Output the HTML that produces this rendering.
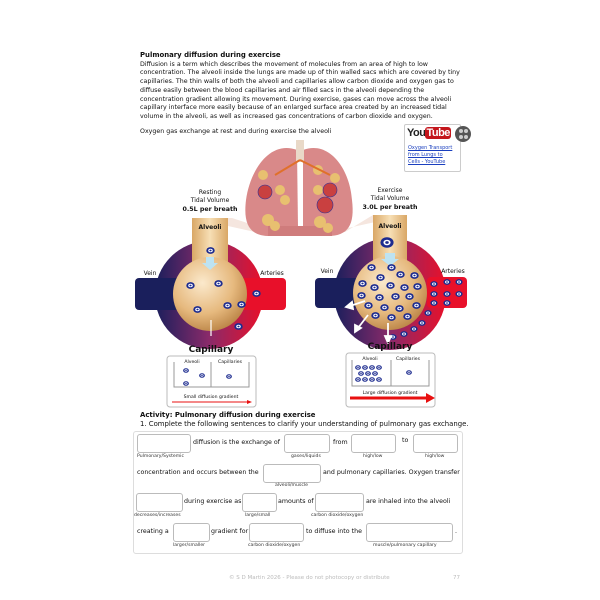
<!DOCTYPE html>
<html><head><meta charset="utf-8"><style>
body{margin:0;width:600px;height:600px;background:#fff;position:relative;overflow:hidden;font-family:"DejaVu Sans","Liberation Sans",sans-serif;color:#111}
.a{position:absolute;white-space:nowrap}
.t{font-size:6.3px;line-height:8.7px}
.ib{position:absolute;border:1px solid #bbb;border-radius:3px;background:#fff}
.s{font-size:6.3px;position:absolute;white-space:nowrap}
.l{font-size:4.6px;position:absolute;white-space:nowrap;color:#333}
</style></head><body>
<div class="a t" style="left:140px;top:51px"><b style="font-size:6.9px">Pulmonary diffusion during exercise</b><br>
Diffusion is a term which describes the movement of molecules from an area of high to low<br>
concentration. The alveoli inside the lungs are made up of thin walled sacs which are covered by tiny<br>
capillaries. The thin walls of both the alveoli and capillaries allow carbon dioxide and oxygen gas to<br>
diffuse easily between the blood capillaries and air filled sacs in the alveoli depending the<br>
concentration gradient allowing its movement. During exercise, gases can move across the alveoli<br>
capillary interface more easily because of an enlarged surface area created by an increased tidal<br>
volume in the alveoli, as well as increased gas concentrations of carbon dioxide and oxygen.</div>
<div class="a t" style="left:140px;top:128px">Oxygen gas exchange at rest and during exercise the alveoli</div>

<div style="position:absolute;left:404px;top:124px;width:55px;height:46px;border:1px solid #ccc;border-radius:2px;background:#fff">
<div class="a" style="left:2px;top:2px;font:bold 11px 'Liberation Sans',sans-serif;letter-spacing:-0.5px;color:#222">You<span style="background:#c4161c;color:#fff;border-radius:3px;padding:0 1px">Tube</span></div>
<div class="a" style="left:3px;top:20px;font-size:5px;line-height:7px;color:#1a3fbf;text-decoration:underline">Oxygen Transport<br>from Lungs to<br>Cells - YouTube</div></div>
<svg style="position:absolute;left:455px;top:124px" width="20" height="22"><circle cx="8" cy="10" r="8" fill="#555"/><circle cx="6" cy="7" r="2" fill="#ccc"/><circle cx="11" cy="7" r="2" fill="#ccc"/><circle cx="6" cy="13" r="2" fill="#ccc"/><circle cx="11" cy="13" r="2" fill="#ccc"/></svg>

<svg style="position:absolute;left:0;top:0" width="600" height="600">
<defs>
<linearGradient id="ring" x1="0" x2="1"><stop offset="0" stop-color="#1a1f5c"/><stop offset="0.5" stop-color="#8a2a6a"/><stop offset="1" stop-color="#e8102a"/></linearGradient>
<radialGradient id="sph" cx="0.4" cy="0.35" r="0.7"><stop offset="0" stop-color="#fbe9cc"/><stop offset="0.6" stop-color="#e6b97e"/><stop offset="1" stop-color="#b98244"/></radialGradient>
<linearGradient id="neck" x1="0" x2="1"><stop offset="0" stop-color="#d9a766"/><stop offset="0.5" stop-color="#f7dfb5"/><stop offset="1" stop-color="#d9a766"/></linearGradient>
<symbol id="o2" viewBox="0 0 10 8"><ellipse cx="5" cy="4" rx="4.8" ry="3.8" fill="#1c2b8f"/><ellipse cx="5" cy="4" rx="2.6" ry="2" fill="#fff"/><ellipse cx="5" cy="4" rx="1.3" ry="1" fill="#1c2b8f"/></symbol>
</defs>
<polygon points="255,232 192,218 232,218 275,232" fill="#f5e6df"/>
<polygon points="345,232 373,215 407,215 330,232" fill="#f5e6df"/>
<path d="M297,150 C270,140 250,170 246,200 C243,225 250,236 270,236 L298,228 Z" fill="#d98989"/>
<path d="M303,150 C330,140 350,170 352,200 C355,225 348,236 328,236 L303,228 Z" fill="#d98989"/>
<rect x="296" y="140" width="8" height="22" fill="#e9d9c8"/>
<rect x="268" y="226" width="64" height="10" fill="#cf7c7c"/>
<g fill="#e8c070"><circle cx="263" cy="175" r="5"/><circle cx="280" cy="190" r="5"/><circle cx="285" cy="200" r="5"/><circle cx="268" cy="220" r="6"/><circle cx="275" cy="226" r="5"/><circle cx="318" cy="170" r="5"/><circle cx="335" cy="178" r="5"/><circle cx="318" cy="190" r="5"/><circle cx="320" cy="222" r="6"/><circle cx="328" cy="228" r="5"/></g>
<g fill="#c94040" stroke="#2a3399" stroke-width="0.6"><circle cx="265" cy="192" r="7"/><circle cx="330" cy="190" r="7"/><circle cx="325" cy="205" r="8"/></g>
<path d="M300,160 L275,175 M300,160 L330,175" stroke="#e0702a" stroke-width="2" fill="none"/>
<circle cx="209" cy="295" r="54" fill="url(#ring)"/>
<rect x="135" y="278" width="45" height="32" rx="4" fill="#1a1f5c"/>
<rect x="240" y="278" width="46" height="32" rx="4" fill="#e8102a"/>
<rect x="192" y="218" width="36" height="50" fill="url(#neck)"/>
<circle cx="210" cy="294" r="37" fill="url(#sph)"/>
<path d="M206,257 h8 v6 h4 l-8,7 l-8,-7 h4z" fill="#bde3f2"/>
<line x1="211" y1="320" x2="211" y2="336" stroke="#fff" stroke-width="1.2"/>
<use href="#o2" x="206" y="247" width="9" height="7"/><use href="#o2" x="186" y="282" width="9" height="7"/><use href="#o2" x="214" y="280" width="9" height="7"/><use href="#o2" x="193" y="306" width="9" height="7"/><use href="#o2" x="223" y="302" width="9" height="7"/><use href="#o2" x="252" y="290" width="9" height="7"/><use href="#o2" x="237" y="301" width="9" height="7"/><use href="#o2" x="234" y="323" width="9" height="7"/>
<circle cx="390" cy="294" r="56" fill="url(#ring)"/>
<rect x="315" y="278" width="45" height="30" rx="4" fill="#1a1f5c"/>
<rect x="427" y="277" width="40" height="31" rx="4" fill="#e8102a"/>
<rect x="373" y="215" width="34" height="50" fill="url(#neck)"/>
<circle cx="390" cy="293" r="37" fill="url(#sph)"/>
<path d="M385,253 h10 v6 h4 l-9,7 l-9,-7 h4z" fill="#bde3f2"/>
<use href="#o2" x="380" y="237" width="14" height="11"/>
<g>
<use href="#o2" x="367" y="264" width="9" height="7"/><use href="#o2" x="387" y="264" width="9" height="7"/><use href="#o2" x="376" y="274" width="9" height="7"/><use href="#o2" x="396" y="271" width="9" height="7"/><use href="#o2" x="410" y="272" width="9" height="7"/>
<use href="#o2" x="358" y="280" width="9" height="7"/><use href="#o2" x="370" y="284" width="9" height="7"/><use href="#o2" x="386" y="282" width="9" height="7"/><use href="#o2" x="400" y="284" width="9" height="7"/><use href="#o2" x="413" y="283" width="9" height="7"/>
<use href="#o2" x="357" y="292" width="9" height="7"/><use href="#o2" x="375" y="294" width="9" height="7"/><use href="#o2" x="391" y="293" width="9" height="7"/><use href="#o2" x="405" y="293" width="9" height="7"/>
<use href="#o2" x="364" y="302" width="9" height="7"/><use href="#o2" x="380" y="304" width="9" height="7"/><use href="#o2" x="395" y="305" width="9" height="7"/><use href="#o2" x="412" y="302" width="9" height="7"/>
<use href="#o2" x="371" y="312" width="9" height="7"/><use href="#o2" x="387" y="314" width="9" height="7"/><use href="#o2" x="403" y="313" width="9" height="7"/>
<use href="#o2" x="430" y="281" width="8" height="6"/><use href="#o2" x="443" y="279" width="8" height="6"/><use href="#o2" x="455" y="279" width="8" height="6"/>
<use href="#o2" x="430" y="291" width="8" height="6"/><use href="#o2" x="443" y="291" width="8" height="6"/><use href="#o2" x="455" y="291" width="8" height="6"/>
<use href="#o2" x="430" y="300" width="8" height="6"/><use href="#o2" x="443" y="300" width="8" height="6"/><use href="#o2" x="424" y="310" width="8" height="6"/>
<use href="#o2" x="418" y="320" width="8" height="6"/><use href="#o2" x="410" y="326" width="8" height="6"/><use href="#o2" x="400" y="331" width="8" height="6"/><use href="#o2" x="389" y="334" width="8" height="6"/>
</g>
<g stroke="#fff" stroke-width="1.8" fill="#fff"><line x1="365" y1="301" x2="350" y2="306"/><polygon points="346,307 352,302 353,309"/><line x1="368" y1="315" x2="358" y2="328"/><polygon points="355,332 355,325 361,328"/><line x1="388" y1="323" x2="388" y2="338"/><polygon points="388,343 385,336 391,336"/></g>
<rect x="167" y="356" width="89" height="51" rx="3" fill="#fff" stroke="#bbb"/>
<path d="M174,362 v25 h75 v-25 M211,362 v25" stroke="#999" fill="none"/>
<use href="#o2" x="183" y="368" width="6" height="5"/><use href="#o2" x="199" y="373" width="6" height="5"/><use href="#o2" x="183" y="381" width="6" height="5"/><use href="#o2" x="226" y="374" width="6" height="5"/>
<line x1="172" y1="402" x2="250" y2="402" stroke="#e81010" stroke-width="1"/><polygon points="252,402 247,400 247,404" fill="#e81010"/>
<rect x="346" y="353" width="89" height="54" rx="3" fill="#fff" stroke="#bbb"/>
<path d="M352,360 v26 h77 v-26 M391,360 v26" stroke="#999" fill="none"/>
<g><use href="#o2" x="355" y="365" width="6" height="5"/><use href="#o2" x="362" y="365" width="6" height="5"/><use href="#o2" x="369" y="365" width="6" height="5"/><use href="#o2" x="376" y="365" width="6" height="5"/><use href="#o2" x="358" y="371" width="6" height="5"/><use href="#o2" x="365" y="371" width="6" height="5"/><use href="#o2" x="372" y="371" width="6" height="5"/><use href="#o2" x="355" y="377" width="6" height="5"/><use href="#o2" x="362" y="377" width="6" height="5"/><use href="#o2" x="369" y="377" width="6" height="5"/><use href="#o2" x="376" y="377" width="6" height="5"/><use href="#o2" x="406" y="370" width="6" height="5"/></g>
<line x1="350" y1="398" x2="428" y2="398" stroke="#e81010" stroke-width="3"/><polygon points="435,398 426,393 426,403" fill="#e81010"/>
<g font-family="DejaVu Sans,Liberation Sans,sans-serif" font-size="6" text-anchor="middle" fill="#111">
<text x="210" y="194">Resting</text><text x="210" y="202">Tidal Volume</text><text x="210" y="211" font-weight="bold" font-size="6.3">0.5L per breath</text>
<text x="210" y="229" font-weight="bold">Alveoli</text>
<text x="390" y="192">Exercise</text><text x="390" y="200">Tidal Volume</text><text x="390" y="209" font-weight="bold" font-size="6.3">3.0L per breath</text>
<text x="390" y="228" font-weight="bold">Alveoli</text>
<text x="150" y="275">Vein</text><text x="272" y="275">Arteries</text>
<text x="327" y="273">Vein</text><text x="453" y="273">Arteries</text>
<text x="211" y="352" font-weight="bold" font-size="9">Capillary</text><text x="390" y="349" font-weight="bold" font-size="9">Capillary</text>
<g font-size="4.6"><text x="192" y="363">Alveoli</text><text x="230" y="363">Capillaries</text><text x="211" y="398">Small diffusion gradient</text>
<text x="370" y="360">Alveoli</text><text x="408" y="360">Capillaries</text><text x="390" y="394">Large diffusion gradient</text></g>
</g>
</svg>

<div class="a" style="left:140px;top:411px;font-size:6.9px"><b>Activity: Pulmonary diffusion during exercise</b></div>
<div class="a" style="left:140px;top:420px;font-size:6.9px">1. Complete the following sentences to clarify your understanding of pulmonary gas exchange.</div>
<div style="position:absolute;left:133px;top:431px;width:328px;height:121px;border:1px solid #ddd;border-radius:3px"></div>

<div class="ib" style="left:137px;top:434px;width:52px;height:17px"></div>
<div class="s" style="left:193px;top:439px">diffusion is the exchange of</div>
<div class="ib" style="left:284px;top:434px;width:44px;height:17px"></div>
<div class="s" style="left:333px;top:439px">from</div>
<div class="ib" style="left:351px;top:434px;width:43px;height:17px"></div>
<div class="s" style="left:402px;top:437px">to</div>
<div class="ib" style="left:413px;top:434px;width:43px;height:17px"></div>
<div class="l" style="left:137px;top:454px">Pulmonary/Systemic</div>
<div class="l" style="left:291px;top:454px">gases/liquids</div>
<div class="l" style="left:363px;top:454px">high/low</div>
<div class="l" style="left:425px;top:454px">high/low</div>

<div class="s" style="left:137px;top:469px">concentration and occurs between the</div>
<div class="ib" style="left:263px;top:464px;width:56px;height:17px"></div>
<div class="s" style="left:323px;top:469px">and pulmonary capillaries. Oxygen transfer</div>
<div class="l" style="left:275px;top:483px">alveoli/muscle</div>

<div class="ib" style="left:136px;top:493px;width:45px;height:17px"></div>
<div class="s" style="left:184px;top:498px">during exercise as</div>
<div class="ib" style="left:242px;top:493px;width:33px;height:17px"></div>
<div class="s" style="left:278px;top:498px">amounts of</div>
<div class="ib" style="left:315px;top:493px;width:47px;height:17px"></div>
<div class="s" style="left:366px;top:498px">are inhaled into the alveoli</div>
<div class="l" style="left:134px;top:513px">decreases/increases</div>
<div class="l" style="left:245px;top:513px">large/small</div>
<div class="l" style="left:311px;top:513px">carbon dioxide/oxygen</div>

<div class="s" style="left:137px;top:528px">creating a</div>
<div class="ib" style="left:173px;top:523px;width:35px;height:17px"></div>
<div class="s" style="left:211px;top:528px">gradient for</div>
<div class="ib" style="left:249px;top:523px;width:53px;height:17px"></div>
<div class="s" style="left:306px;top:528px">to diffuse into the</div>
<div class="ib" style="left:366px;top:523px;width:85px;height:17px"></div>
<div class="s" style="left:455px;top:528px">.</div>
<div class="l" style="left:173px;top:543px">larger/smaller</div>
<div class="l" style="left:248px;top:543px">carbon dioxide/oxygen</div>
<div class="l" style="left:373px;top:543px">muscle/pulmonary capillary</div>

<div class="a" style="left:229px;top:575px;font-size:5.5px;color:#bbb">© S D Martin 2026 - Please do not photocopy or distribute</div>
<div class="a" style="left:453px;top:575px;font-size:5.5px;color:#bbb">77</div>
</body></html>
